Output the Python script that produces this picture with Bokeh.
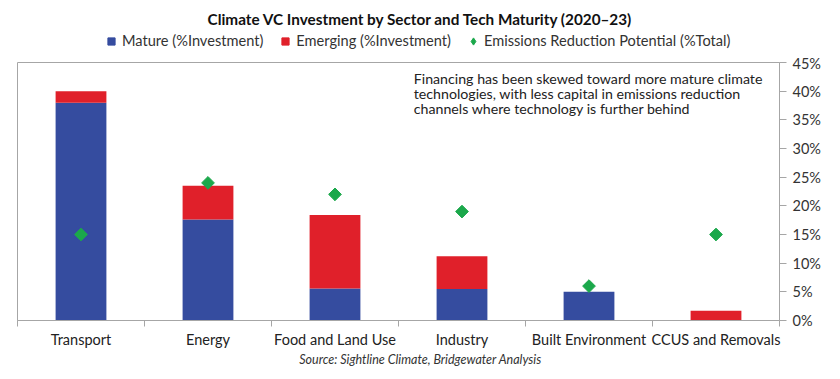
import math
from bokeh.plotting import figure
from bokeh.layouts import column
from bokeh.models import (Range1d, LinearAxis, FixedTicker, PrintfTickFormatter,
                          Legend, LegendItem, Label, ColumnDataSource)
from bokeh.embed import file_html
from bokeh.resources import INLINE

categories = ["Transport", "Energy", "Food and Land Use", "Industry",
              "Built Environment", "CCUS and Removals"]
mature = [38.0, 17.6, 5.6, 5.5, 5.0, 0.0]
emerging = [2.0, 5.9, 12.8, 5.7, 0.0, 1.7]
emissions = [15.0, 24.0, 22.0, 19.0, 6.0, 15.0]
y_ticks = [0, 5, 10, 15, 20, 25, 30, 35, 40, 45]

TITLE = "Climate VC Investment by Sector and Tech Maturity (2020\u201323)"
SOURCE = "Source: Sightline Climate, Bridgewater Analysis"
NOTE = ("Financing has been skewed toward more mature climate\n"
        "technologies, with less capital in emissions reduction\n"
        "channels where technology is further behind")
LEG_LABELS = ["Mature (%Investment)", "Emerging (%Investment)",
              "Emissions Reduction Potential (%Total)"]

BLUE = "#354C9F"
RED = "#E0202A"
GREEN = "#1BA84B"
GRAY = "#A6A6A6"
FONT = "Lato"

n = len(categories)
xs = [i + 0.5 for i in range(n)]
src = ColumnDataSource(dict(x=xs, cat=categories, mature=mature,
                            emerging=emerging, emissions=emissions))

W = 840
HEAD_H = 54
FOOT_H = 27
MAIN_H = 379 - HEAD_H - FOOT_H
FRAME_L, FRAME_R = 17, 779   # frame edges (header/footer frames are aligned to these)


def blank(height):
    f = figure(width=W, height=height, x_range=Range1d(FRAME_L, FRAME_R),
               y_range=Range1d(height, 0),
               output_backend="svg", toolbar_location=None,
               x_axis_location=None, y_axis_location=None,
               min_border_left=0, min_border_right=0, min_border_top=0, min_border_bottom=0)
    f.grid.visible = False
    f.outline_line_color = None
    f.background_fill_color = "white"
    f.border_fill_color = "white"
    return f


# ---------------- header: title + legend ----------------
head = blank(HEAD_H)
lg_m = head.scatter("x", "mature", source=src, marker="square", color=BLUE, visible=False)
lg_e = head.scatter("x", "emerging", source=src, marker="square", color=RED, visible=False)
lg_d = head.scatter("x", "emissions", source=src, marker="diamond", color=GREEN, visible=False)

head.add_layout(Label(x=W / 2, y=18, text=TITLE, text_align="center", text_baseline="middle",
                      text_font=FONT, text_font_style="bold", text_font_size="15.3px",
                      text_color="#111111"))

legend = Legend(items=[
    LegendItem(label=LEG_LABELS[0], renderers=[lg_m]),
    LegendItem(label=LEG_LABELS[1], renderers=[lg_e]),
    LegendItem(label=LEG_LABELS[2], renderers=[lg_d]),
], orientation="horizontal", location=(85, 4.5), border_line_color=None,
    background_fill_alpha=0, label_text_font=FONT, label_text_font_size="14.6px",
    label_text_color="#333333", glyph_width=18, glyph_height=18, spacing=13,
    label_standoff=2, padding=0, margin=0)
head.add_layout(legend, "center")

# ---------------- main chart ----------------
p = figure(width=W, height=MAIN_H, x_range=Range1d(0, n), y_range=Range1d(0, 45),
           output_backend="svg", toolbar_location=None,
           x_axis_location=None, y_axis_location="right",
           min_border_left=FRAME_L, min_border_right=W - FRAME_R, min_border_top=8,
           min_border_bottom=MAIN_H - 8 - 258)
p.grid.visible = False
p.outline_line_color = GRAY
p.background_fill_color = "white"
p.border_fill_color = "white"

bars = p.vbar_stack(["mature", "emerging"], x="x", width=0.4, source=src,
                    color=[BLUE, RED], line_color=None)
pts = p.scatter("x", "emissions", source=src, marker="square", angle=math.pi / 4,
                size=9, color=GREEN)

ya = p.yaxis[0]
ya.ticker = FixedTicker(ticks=y_ticks)
ya.formatter = PrintfTickFormatter(format="%d%%")
ya.axis_line_color = GRAY
ya.major_tick_line_color = GRAY
ya.major_tick_in = 0
ya.major_tick_out = 7
ya.minor_tick_line_color = None
ya.major_label_text_font = FONT
ya.major_label_text_font_size = "14.5px"
ya.major_label_text_color = "#333333"
ya.major_label_standoff = 6

bticks = list(range(n + 1))
xa1 = LinearAxis(ticker=FixedTicker(ticks=bticks),
                 major_label_overrides={t: "" for t in bticks})
xa1.axis_line_color = GRAY
xa1.major_tick_line_color = GRAY
xa1.major_tick_in = 0
xa1.major_tick_out = 6
xa1.minor_tick_line_color = None
xa1.major_label_text_font_size = "1px"
xa1.major_label_standoff = 0
p.add_layout(xa1, "below")

xa2 = LinearAxis(ticker=FixedTicker(ticks=xs),
                 major_label_overrides={x: c for x, c in zip(xs, categories)})
xa2.axis_line_color = None
xa2.major_tick_line_color = None
xa2.minor_tick_line_color = None
xa2.major_label_text_font = FONT
xa2.major_label_text_font_size = "14.5px"
xa2.major_label_text_color = "#222222"
xa2.major_label_standoff = -2
p.add_layout(xa2, "below")

p.add_layout(Label(x=3.12, y=43.65, text=NOTE, text_baseline="top", text_align="left",
                   text_font=FONT, text_font_size="14.2px", text_color="#222222",
                   text_line_height=0.87))

# ---------------- footer: source ----------------
foot = blank(FOOT_H)
foot.add_layout(Label(x=W / 2, y=7, text=SOURCE, text_align="center", text_baseline="middle",
                      text_font=FONT, text_font_style="italic", text_font_size="12.5px",
                      text_color="#333333"))

layout = column(head, p, foot, spacing=0)
open("out.html", "w").write(file_html(layout, INLINE))
